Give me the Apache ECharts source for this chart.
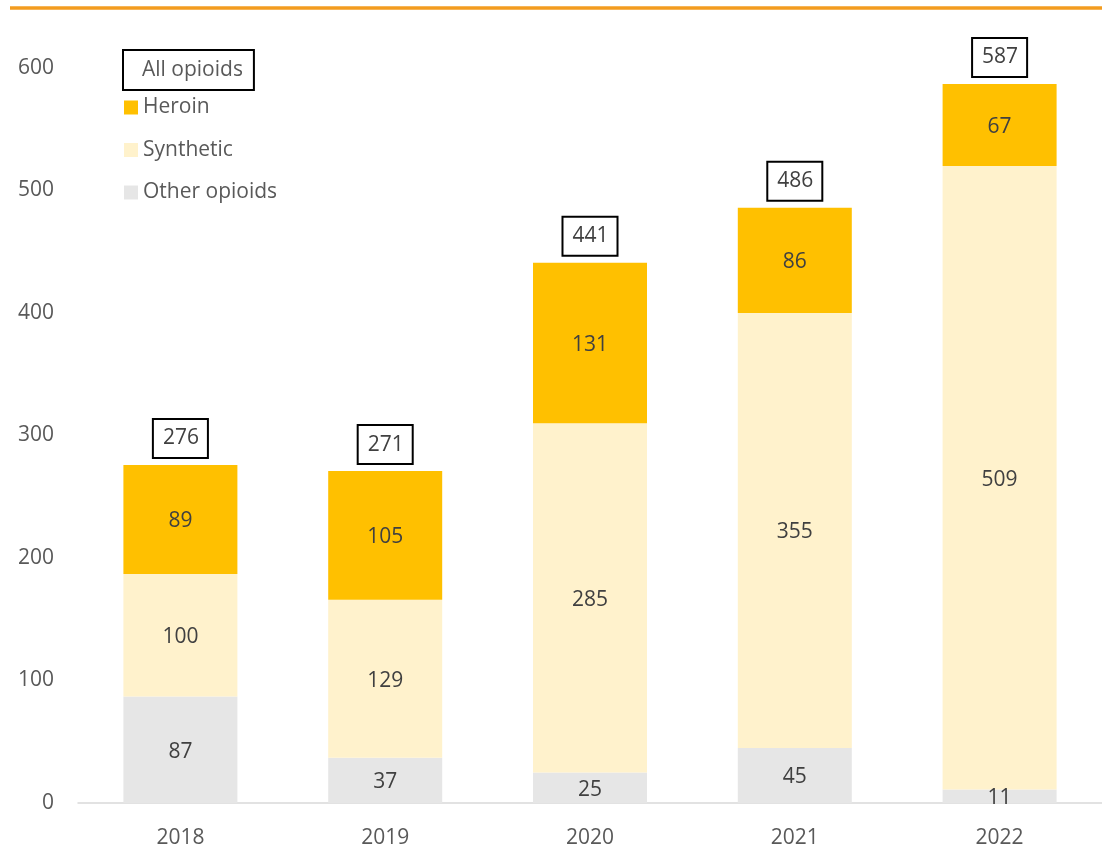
<!DOCTYPE html>
<html>
<head>
<meta charset="utf-8">
<script src="https://cdn.jsdelivr.net/npm/echarts@6/dist/echarts.min.js"></script>
<style>html,body{margin:0;padding:0;background:#fff}#c{width:1102px;height:850px}</style>
</head>
<body>
<div id="c"></div>
<script>
const years = ['2018', '2019', '2020', '2021', '2022'];
const other = [87, 37, 25, 45, 11];
const synthetic = [100, 129, 285, 355, 509];
const heroin = [89, 105, 131, 86, 67];
const totals = [276, 271, 441, 486, 587];
const yTicks = [0, 100, 200, 300, 400, 500, 600];

const FONT = '"Open Sans", sans-serif';
const labelStyle = { show: true, position: 'inside', offset: [0, 2], color: '#404040', fontSize: 21, fontFamily: FONT };

const chart = echarts.init(document.getElementById('c'), null, { renderer: 'canvas' });
chart.setOption({
  animation: false,
  backgroundColor: '#fff',
  graphic: [{
    type: 'line', shape: { x1: 10, y1: 8, x2: 1102, y2: 8 },
    style: { stroke: '#F39C1F', lineWidth: 3.5 }
  }],
  grid: { left: 78, right: -3, top: 68, bottom: 47, containLabel: false },
  legend: [{
    orient: 'vertical', left: 119, top: 49, padding: 0, itemWidth: 0, itemHeight: 14,
    selectedMode: false,
    data: [{ name: 'All opioids', icon: 'none' }],
    textStyle: {
      fontSize: 21, lineHeight: 21, fontFamily: FONT, color: '#595959',
      borderColor: '#000', borderWidth: 2, padding: [9, 10, 8, 18], backgroundColor: '#fff'
    }
  }, {
    orient: 'vertical', left: 124, top: 97, padding: 0, itemWidth: 14, itemHeight: 14, itemGap: 21.5,
    selectedMode: false, icon: 'rect',
    data: ['Heroin', 'Synthetic', 'Other opioids'],
    textStyle: { fontSize: 21, lineHeight: 21, fontFamily: FONT, color: '#595959' }
  }],
  xAxis: {
    type: 'category', data: years,
    axisLine: { show: true, lineStyle: { color: '#D9D9D9', width: 1.5 } },
    axisTick: { show: false },
    axisLabel: { color: '#595959', fontSize: 21, fontFamily: FONT, margin: 25 }
  },
  yAxis: {
    type: 'value', min: yTicks[0], max: yTicks[yTicks.length - 1], interval: 100,
    axisLine: { show: false }, axisTick: { show: false }, splitLine: { show: false },
    axisLabel: { color: '#595959', fontSize: 21, fontFamily: FONT, margin: 24, padding: [4, 0, 0, 0] }
  },
  series: [{
    name: 'Other opioids', type: 'bar', stack: 'a', data: other, barWidth: 114,
    itemStyle: { color: '#E6E6E6' }, label: labelStyle
  }, {
    name: 'Synthetic', type: 'bar', stack: 'a', data: synthetic, barWidth: 114,
    itemStyle: { color: '#FFF2CC' }, label: labelStyle
  }, {
    name: 'Heroin', type: 'bar', stack: 'a', data: heroin, barWidth: 114,
    itemStyle: { color: '#FFC000' }, label: labelStyle
  }, {
    name: 'All opioids', type: 'bar', data: totals, barWidth: 114, barGap: '-100%',
    itemStyle: { color: 'rgba(0,0,0,0)' }, z: 1,
    label: {
      show: true, position: 'top', distance: 8, color: '#404040', fontSize: 21, fontFamily: FONT,
      lineHeight: 21, borderColor: '#000', borderWidth: 2, padding: [8, 8, 8, 9], backgroundColor: '#fff'
    }
  }]
});
</script>
</body>
</html>
